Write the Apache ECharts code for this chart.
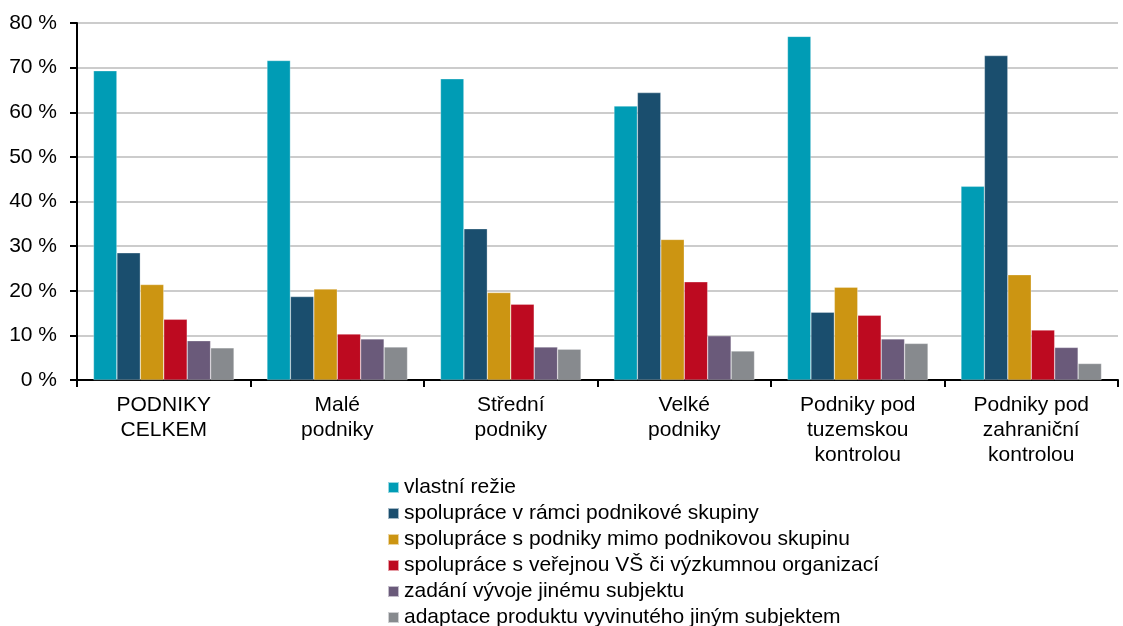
<!DOCTYPE html>
<html>
<head>
<meta charset="utf-8">
<script src="https://cdn.jsdelivr.net/npm/echarts@6/dist/echarts.min.js"></script>
<style>
  html, body { margin: 0; padding: 0; background: #fff; }
  #chart { width: 1123px; height: 626px; }
</style>
</head>
<body>
<div id="chart"></div>
<script>
  var categories = ['PODNIKY\nCELKEM', 'Malé\npodniky', 'Střední\npodniky', 'Velké\npodniky',
    'Podniky pod\ntuzemskou\nkontrolou', 'Podniky pod\nzahraniční\nkontrolou']

  var seriesNames = ['vlastní režie', 'spolupráce v rámci podnikové skupiny',
    'spolupráce s podniky mimo podnikovou skupinu', 'spolupráce s veřejnou VŠ či výzkumnou organizací',
    'zadání vývoje jinému subjektu', 'adaptace produktu vyvinutého jiným subjektem']

  var vlastniRezie = [69.3, 71.6, 67.5, 61.4, 77.0, 43.4]
  var vRamciSkupiny = [28.5, 18.7, 33.9, 64.4, 15.2, 72.7]
  var mimoSkupinu = [21.4, 20.4, 19.6, 31.5, 20.8, 23.6]
  var sVerejnouVS = [13.6, 10.3, 17.0, 22.0, 14.5, 11.2]
  var zadaniVyvoje = [8.8, 9.2, 7.4, 9.9, 9.2, 7.3]
  var adaptace = [7.2, 7.4, 6.9, 6.5, 8.2, 3.7]

  var yTicks = [0, 10, 20, 30, 40, 50, 60, 70, 80]

  var colors = ['#009cb5', '#1a4e6e', '#cc9512', '#bd0a20', '#6a5a7a', '#878a8e']
  var values = [vlastniRezie, vRamciSkupiny, mimoSkupinu, sVerejnouVS, zadaniVyvoje, adaptace]

  var chart = echarts.init(document.getElementById('chart'))

  chart.setOption({
    animation: false,
    textStyle: { fontFamily: 'Liberation Sans, Arial, sans-serif' },
    color: colors,
    grid: {
      left: 77,
      right: 5,
      top: 23,
      bottom: 246
    },
    legend: {
      orient: 'vertical',
      left: 382,
      top: 472,
      height: 300,
      icon: 'rect',
      itemWidth: 11,
      itemHeight: 11,
      itemGap: 5,
      textStyle: { fontSize: 21, color: '#000' },
      data: seriesNames
    },
    xAxis: {
      type: 'category',
      data: categories,
      axisLine: { lineStyle: { color: '#000', width: 2 } },
      axisTick: { show: true, length: 7, lineStyle: { color: '#000', width: 2 } },
      axisLabel: {
        fontSize: 21,
        color: '#000',
        lineHeight: 25,
        margin: 13,
        interval: 0
      }
    },
    yAxis: {
      type: 'value',
      min: yTicks[0],
      max: yTicks[yTicks.length - 1],
      interval: 10,
      axisLine: { show: true, lineStyle: { color: '#000', width: 2 } },
      axisTick: { show: true, length: 7, inside: false, lineStyle: { color: '#000', width: 2 } },
      axisLabel: {
        fontSize: 21,
        color: '#000',
        margin: 20,
        formatter: function (v) { return v + ' %' }
      },
      splitLine: { lineStyle: { color: '#cccccc', width: 2 } }
    },
    series: values.map(function (d, i) {
      return {
        name: seriesNames[i],
        type: 'bar',
        data: d,
        barGap: '0%',
        barCategoryGap: '19%',
        itemStyle: { borderColor: 'rgba(255,255,255,0.6)', borderWidth: 0.5 }
      }
    })
  })
</script>
</body>
</html>
